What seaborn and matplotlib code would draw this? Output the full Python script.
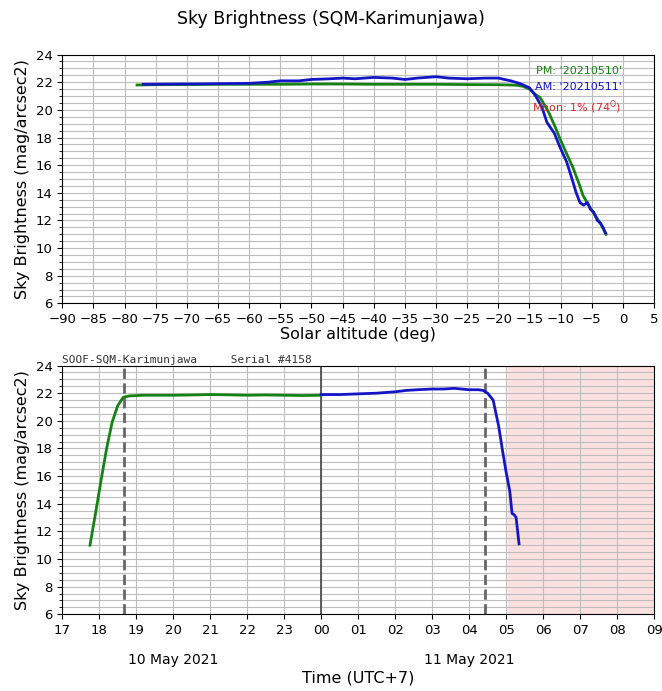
import numpy as np
import pandas as pd
import seaborn as sns
from matplotlib import pyplot as plt
from matplotlib.ticker import MultipleLocator

# solar altitude vs brightness (top panel)
pm_alt = [-78, -75, -70, -65, -60, -55, -50, -45, -40, -35, -30, -25, -20, -18, -17, -16,
          -15, -14, -13.3, -12, -11, -10, -9, -8, -7, -6.4, -5.5, -4.5, -3.5, -2.7]
pm_mag = [21.8, 21.82, 21.83, 21.85, 21.85, 21.85, 21.87, 21.87, 21.85, 21.85, 21.85, 21.83, 21.82, 21.8, 21.78, 21.7,
          21.5, 21.1, 20.9, 19.9, 18.9, 17.8, 16.8, 15.8, 14.6, 13.8, 13.1, 12.4, 11.7, 11.0]
am_alt = [-77, -72, -68, -64, -60, -57, -55, -52, -50, -47, -45, -43, -40, -37, -35, -33, -30, -28, -25, -22,
          -20, -18, -16.5, -15, -14, -13, -12.2, -11, -10.1, -9, -8.1, -7.5, -6.9, -6.3, -5.7, -5.2,
          -4.7, -4.1, -3.6, -3.2, -2.8]
am_mag = [21.85, 21.87, 21.88, 21.9, 21.92, 22.0, 22.1, 22.1, 22.2, 22.25, 22.3, 22.25, 22.35, 22.3, 22.2, 22.3, 22.4, 22.3, 22.25, 22.3,
          22.3, 22.1, 21.9, 21.6, 21.0, 20.2, 19.1, 18.3, 17.3, 16.2, 14.9, 14.0, 13.3, 13.1, 13.3, 12.8,
          12.6, 12.0, 11.8, 11.5, 11.1]

# local time (hours since 00 of 10 May) vs brightness (bottom panel)
pm_hour = [17.75, 17.9, 18.05, 18.2, 18.35, 18.5, 18.65, 18.8, 19.2, 19.6, 20.0, 20.5, 21.0, 21.5, 22.0, 22.5, 23.0, 23.5, 24.0]
pm_hmag = [11.0, 13.3, 15.7, 18.0, 19.9, 21.1, 21.7, 21.8, 21.85, 21.85, 21.85, 21.87, 21.9, 21.88, 21.85, 21.87, 21.85, 21.83, 21.85]
am_hour = [24.0, 24.5, 25.0, 25.5, 26.0, 26.3, 26.6, 27.0, 27.3, 27.6, 28.0, 28.25, 28.38, 28.5, 28.65, 28.8,
           28.9, 29.0, 29.1, 29.16, 29.22, 29.27, 29.35]
am_hmag = [21.9, 21.9, 21.95, 22.0, 22.1, 22.2, 22.25, 22.3, 22.3, 22.35, 22.25, 22.25, 22.2, 22.0, 21.5, 19.6,
           17.9, 16.3, 14.9, 13.3, 13.2, 13.0, 11.1]

twilight_lines = [18.68, 28.42]
dawn_start = 29.05
alt_ticks = list(range(-90, 10, 5))
hour_ticks = list(range(17, 34))
hour_labels = ['%02d' % (h % 24) for h in hour_ticks]

green = '#148214'
blue = '#1515c8'

top = pd.DataFrame({'alt': pm_alt + am_alt, 'mag': pm_mag + am_mag,
                    'run': ['PM'] * len(pm_alt) + ['AM'] * len(am_alt)})
bot = pd.DataFrame({'hour': pm_hour + am_hour, 'mag': pm_hmag + am_hmag,
                    'run': ['PM'] * len(pm_hour) + ['AM'] * len(am_hour)})

fig, (ax1, ax2) = plt.subplots(2, 1, figsize=(6.62, 6.91), dpi=100)
fig.subplots_adjust(left=0.094, right=0.988, top=0.921, bottom=0.111, hspace=0.25)
fig.suptitle('Sky Brightness (SQM-Karimunjawa)', fontsize=12.5, y=0.985)

sns.lineplot(data=top, x='alt', y='mag', hue='run', palette={'PM': green, 'AM': blue},
             hue_order=['PM', 'AM'], sort=False, lw=2, legend=False, ax=ax1, zorder=3)
ax1.set_xlim(-90, 5)
ax1.set_ylim(6, 24)
ax1.set_xticks(alt_ticks)
ax1.yaxis.set_major_locator(MultipleLocator(2))
ax1.yaxis.set_minor_locator(MultipleLocator(0.5))
ax1.grid(axis='x', which='major', color='#bdbdbd', lw=0.8)
ax1.grid(axis='y', which='both', color='#bdbdbd', lw=0.8)
ax1.set_xlabel('Solar altitude (deg)', fontsize=11.5, labelpad=1)
ax1.set_ylabel('Sky Brightness (mag/arcsec2)', fontsize=11.5)
ax1.tick_params(labelsize=9.5)
ax1.text(0.945, 0.955, "PM: '20210510'", color=green, fontsize=8, ha='right', va='top', transform=ax1.transAxes)
ax1.text(0.945, 0.89, "AM: '20210511'", color=blue, fontsize=8, ha='right', va='top', transform=ax1.transAxes)
ax1.text(0.945, 0.825, r"Moon: 1% (74$^\mathrm{O}$)", color='#d62728', fontsize=8, ha='right', va='top', transform=ax1.transAxes)

sns.lineplot(data=bot, x='hour', y='mag', hue='run', palette={'PM': green, 'AM': blue},
             hue_order=['PM', 'AM'], sort=False, lw=2, legend=False, ax=ax2, zorder=3)
ax2.axvspan(dawn_start, 33, color='#fbe0e0', zorder=0)
for t in twilight_lines:
    ax2.axvline(t, color='#666666', ls='--', lw=2, zorder=2)
ax2.axvline(24, color='#444444', lw=1.2, zorder=2)
ax2.set_xlim(17, 33)
ax2.set_ylim(6, 24)
ax2.set_xticks(hour_ticks)
ax2.set_xticklabels(hour_labels)
ax2.yaxis.set_major_locator(MultipleLocator(2))
ax2.yaxis.set_minor_locator(MultipleLocator(0.5))
ax2.grid(axis='x', which='major', color='#bdbdbd', lw=0.8)
ax2.grid(axis='y', which='both', color='#bdbdbd', lw=0.8)
ax2.set_xlabel('Time (UTC+7)', fontsize=11.5, labelpad=24)
ax2.set_ylabel('Sky Brightness (mag/arcsec2)', fontsize=11.5)
ax2.tick_params(labelsize=9.5)
ax2.set_title('SOOF-SQM-Karimunjawa     Serial #4158', loc='left', family='monospace',
              fontsize=8, color='#333333', pad=2)
ax2.text(20, -0.155, '10 May 2021', ha='center', va='top', fontsize=10, transform=ax2.get_xaxis_transform())
ax2.text(28, -0.155, '11 May 2021', ha='center', va='top', fontsize=10, transform=ax2.get_xaxis_transform())

plt.savefig('out.png')
